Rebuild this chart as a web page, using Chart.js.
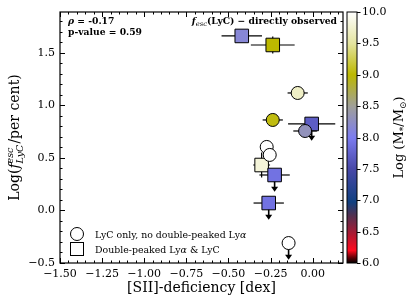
<!DOCTYPE html>
<html>
<head>
<script src="https://cdn.jsdelivr.net/npm/chart.js@4.4.0/dist/chart.umd.min.js"></script>
<style>body{margin:0;background:#fff}</style>
</head>
<body>
<canvas id="c" width="415" height="303"></canvas>
<script>
// circles: LyC only, no double-peaked Lya
const circleX = [-0.089, -0.237, -0.045, -0.273, -0.255, -0.143];
const circleY = [1.119, 0.862, 0.757, 0.605, 0.529, -0.31];
const circleXerr = [0.06, 0.06, 0.07, 0, 0, 0];
const circleMass = [9.7, 9.05, 8.3, 10, 10, 10];
const circleUplim = [false, false, false, false, false, true];

// squares: double-peaked Lya & LyC
const squareX = [-0.421, -0.237, -0.006, -0.303, -0.226, -0.261];
const squareY = [1.662, 1.576, 0.824, 0.433, 0.338, 0.071];
const squareXerr = [0.12, 0.13, 0.14, 0.05, 0.09, 0.09];
const squareYerr = [0, 0.08, 0, 0.12, 0, 0];
const squareMass = [8.15, 9.0, 7.7, 9.8, 7.9, 7.9];
const squareUplim = [false, false, true, false, true, true];

const xTicks = [-1.5, -1.25, -1.0, -0.75, -0.5, -0.25, 0.0];
const yTicks = [-0.5, 0.0, 0.5, 1.0, 1.5];
const cbTicks = [6.0, 6.5, 7.0, 7.5, 8.0, 8.5, 9.0, 9.5, 10.0];

// colormap stops (mass -> rgb)
const cmapStops = [
  [6.0, [0, 0, 0]], [6.08, [90, 0, 5]], [6.2, [255, 10, 30]], [6.45, [176, 24, 48]],
  [6.76, [80, 48, 80]], [6.97, [16, 64, 128]], [7.5, [72, 72, 168]], [8.0, [124, 124, 240]],
  [8.5, [160, 160, 152]], [9.0, [188, 184, 0]], [9.5, [228, 228, 160]], [10.0, [255, 255, 255]]
];
function cmap(v) {
  if (v <= cmapStops[0][0]) return 'rgb(' + cmapStops[0][1].join(',') + ')';
  for (let i = 1; i < cmapStops.length; i++) {
    const [v1, c1] = cmapStops[i], [v0, c0] = cmapStops[i - 1];
    if (v <= v1) {
      const t = (v - v0) / (v1 - v0);
      return 'rgb(' + c0.map((c, k) => Math.round(c + t * (c1[k] - c))).join(',') + ')';
    }
  }
  return 'rgb(255,255,255)';
}

const SERIF = "'DejaVu Serif', serif";
const fmtMinus = s => s.replace('-', '\u2212');

function runs(ctx, x, y, parts, align) {
  let w = 0;
  parts.forEach(p => { ctx.font = p.font; w += p.w !== undefined ? p.w : ctx.measureText(p.t).width; });
  let cx = align === 'right' ? x - w : align === 'center' ? x - w / 2 : x;
  parts.forEach(p => {
    ctx.font = p.font;
    if (p.stack) {
      p.stack.forEach(s => { ctx.font = s.font; ctx.fillText(s.t, cx, y + s.dy); });
      cx += p.w;
    } else {
      ctx.fillText(p.t, cx, y + (p.dy || 0));
      cx += ctx.measureText(p.t).width;
    }
  });
}

function measureStack(ctx, stack) {
  let m = 0;
  stack.forEach(s => { ctx.font = s.font; m = Math.max(m, ctx.measureText(s.t).width); });
  return m;
}

const decor = {
  id: 'decor',
  beforeDatasetsDraw(chart) {
    const { ctx, scales: { x, y } } = chart;
    ctx.save();
    ctx.strokeStyle = '#000';
    ctx.fillStyle = '#000';
    ctx.lineWidth = 1.2;
    const bars = (xs, ys, xe, ye, up) => {
      xs.forEach((xv, i) => {
        const px = x.getPixelForValue(xv), py = y.getPixelForValue(ys[i]);
        ctx.beginPath();
        if (xe[i]) { ctx.moveTo(x.getPixelForValue(xv - xe[i]), py); ctx.lineTo(x.getPixelForValue(xv + xe[i]), py); }
        if (ye && ye[i]) { ctx.moveTo(px, y.getPixelForValue(ys[i] - ye[i])); ctx.lineTo(px, y.getPixelForValue(ys[i] + ye[i])); }
        ctx.stroke();
        if (up[i]) {
          const tip = y.getPixelForValue(ys[i] - 0.16);
          ctx.lineWidth = 1.6;
          ctx.beginPath(); ctx.moveTo(px, py); ctx.lineTo(px, tip - 3); ctx.stroke();
          ctx.beginPath(); ctx.moveTo(px - 3.5, tip - 5); ctx.lineTo(px + 3.5, tip - 5); ctx.lineTo(px, tip); ctx.closePath(); ctx.fill();
          ctx.lineWidth = 1.2;
        }
      });
    };
    bars(squareX, squareY, squareXerr, squareYerr, squareUplim);
    bars(circleX, circleY, circleXerr, null, circleUplim);
    ctx.restore();
  },
  afterDraw(chart) {
    const { ctx, chartArea: a, scales: { x, y } } = chart;
    ctx.save();
    ctx.strokeStyle = '#000';
    ctx.fillStyle = '#000';
    // frame
    ctx.lineWidth = 1.2;
    ctx.strokeRect(a.left, a.top, a.right - a.left, a.bottom - a.top);
    // inward ticks
    ctx.lineWidth = 1;
    ctx.beginPath();
    for (let v = -1.5; v <= 0.2; v += 0.05) {
      const px = Math.round(x.getPixelForValue(v)) + 0.5;
      const major = xTicks.some(t => Math.abs(t - v) < 1e-6);
      const len = major ? 5 : 2.5;
      ctx.moveTo(px, a.bottom); ctx.lineTo(px, a.bottom - len);
      ctx.moveTo(px, a.top); ctx.lineTo(px, a.top + len);
    }
    for (let v = -0.5; v <= 1.9; v += 0.1) {
      const py = Math.round(y.getPixelForValue(v)) + 0.5;
      const major = yTicks.some(t => Math.abs(t - v) < 1e-6);
      const len = major ? 5 : 2.5;
      ctx.moveTo(a.left, py); ctx.lineTo(a.left + len, py);
      ctx.moveTo(a.right, py); ctx.lineTo(a.right - len, py);
    }
    ctx.stroke();

    // colorbar
    const cbL = a.right + 4, cbR = a.right + 14, cbT = a.top, cbB = a.bottom;
    const cbPix = v => cbB - (v - 6) / 4 * (cbB - cbT);
    const g = ctx.createLinearGradient(0, cbB, 0, cbT);
    cmapStops.forEach(s => g.addColorStop((s[0] - 6) / 4, 'rgb(' + s[1].join(',') + ')'));
    ctx.fillStyle = g;
    ctx.fillRect(cbL, cbT, cbR - cbL, cbB - cbT);
    ctx.strokeRect(cbL, cbT, cbR - cbL, cbB - cbT);
    ctx.fillStyle = '#000';
    ctx.font = '11px ' + SERIF;
    ctx.textBaseline = 'middle';
    ctx.beginPath();
    cbTicks.forEach(v => {
      const py = Math.round(cbPix(v)) + 0.5;
      ctx.moveTo(cbR, py); ctx.lineTo(cbR + 3.5, py);
      ctx.fillText(v.toFixed(1), cbR + 5, py);
    });
    ctx.stroke();
    ctx.textBaseline = 'alphabetic';

    // colorbar label
    ctx.save();
    ctx.translate(403, (cbT + cbB) / 2);
    ctx.rotate(-Math.PI / 2);
    const f13 = '13px ' + SERIF, f9 = '9px ' + SERIF;
    runs(ctx, 0, 0, [
      { t: 'Log (M', font: f13 }, { t: '*', font: f9, dy: 3 },
      { t: '/M', font: f13 }, { t: '\u2299', font: f9, dy: 3 }, { t: ')', font: f13 }
    ], 'center');
    ctx.restore();

    // y label
    ctx.save();
    ctx.translate(19, (a.top + a.bottom) / 2);
    ctx.rotate(-Math.PI / 2);
    const f14 = '14px ' + SERIF, fi14 = 'italic 14px ' + SERIF, fs = 'italic 9.5px ' + SERIF;
    const stack = [{ t: 'esc', font: fs, dy: -6 }, { t: 'LyC', font: fs, dy: 4 }];
    runs(ctx, 0, 0, [
      { t: 'Log(', font: f14 }, { t: 'f', font: fi14 },
      { stack, font: fs, w: measureStack(ctx, stack) + 1 },
      { t: '/per cent)', font: f14 }
    ], 'center');
    ctx.restore();

    // x label
    ctx.font = '14px ' + SERIF;
    ctx.textAlign = 'center';
    ctx.fillText('[SII]-deficiency [dex]', (a.left + a.right) / 2, 292);
    ctx.textAlign = 'left';

    // annotations
    const b10 = 'bold 9.2px ' + SERIF;
    runs(ctx, a.left + 8, a.top + 12, [
      { t: '\u03c1', font: 'italic bold 9.2px ' + SERIF }, { t: ' = -0.17', font: b10 }
    ], 'left');
    ctx.font = b10;
    ctx.fillText('p-value = 0.59', a.left + 8, a.top + 23);
    runs(ctx, a.right - 6, a.top + 12, [
      { t: 'f', font: 'italic bold 9.2px ' + SERIF }, { t: 'esc', font: 'italic 6.8px ' + SERIF, dy: 2 },
      { t: '(LyC) \u2212 directly observed', font: b10 }
    ], 'right');

    // legend
    const lx = 77, ly1 = 234, ly2 = 249;
    ctx.lineWidth = 1;
    ctx.fillStyle = '#fff';
    ctx.beginPath(); ctx.arc(lx, ly1, 6.5, 0, Math.PI * 2); ctx.fill(); ctx.stroke();
    ctx.fillRect(lx - 6.5, ly2 - 6.5, 13, 13); ctx.strokeRect(lx - 6.5, ly2 - 6.5, 13, 13);
    ctx.fillStyle = '#000';
    const f10 = '9.4px ' + SERIF, fi10 = 'italic 9.4px ' + SERIF;
    runs(ctx, 95, ly1 + 4, [{ t: 'LyC only, no double-peaked Ly', font: f10 }, { t: '\u03b1', font: fi10 }], 'left');
    runs(ctx, 95, ly2 + 4, [{ t: 'Double-peaked Ly', font: f10 }, { t: '\u03b1', font: fi10 }, { t: ' & LyC', font: f10 }], 'left');
    ctx.restore();
  }
};

new Chart(document.getElementById('c'), {
  type: 'scatter',
  data: {
    datasets: [
      {
        label: 'LyC only, no double-peaked Ly\u03b1',
        data: circleX.map((v, i) => ({ x: v, y: circleY[i] })),
        pointStyle: 'circle',
        pointRadius: 6.5,
        pointHoverRadius: 6.5,
        backgroundColor: circleMass.map(cmap),
        borderColor: '#000',
        borderWidth: 1
      },
      {
        label: 'Double-peaked Ly\u03b1 & LyC',
        data: squareX.map((v, i) => ({ x: v, y: squareY[i] })),
        pointStyle: 'rect',
        pointRadius: 9.6,
        pointHoverRadius: 9.6,
        backgroundColor: squareMass.map(cmap),
        borderColor: '#000',
        borderWidth: 1
      }
    ]
  },
  options: {
    responsive: false,
    animation: false,
    events: [],
    layout: { padding: { top: 12, right: 72, left: 0, bottom: 0 } },
    plugins: { legend: { display: false }, tooltip: { enabled: false } },
    scales: {
      x: {
        type: 'linear', min: -1.5, max: 0.18,
        grid: { display: false, drawTicks: false },
        border: { display: false },
        afterBuildTicks: s => { s.ticks = xTicks.map(v => ({ value: v })); },
        afterFit: s => { s.height = 40; },
        ticks: {
          padding: 5, color: '#000', maxRotation: 0, autoSkip: false,
          font: { family: SERIF, size: 11 },
          callback: v => fmtMinus(v.toFixed(2))
        }
      },
      y: {
        type: 'linear', min: -0.5, max: 1.89,
        grid: { display: false, drawTicks: false },
        border: { display: false },
        afterBuildTicks: s => { s.ticks = yTicks.map(v => ({ value: v })); },
        afterFit: s => { s.width = 60; },
        ticks: {
          padding: 5, color: '#000', autoSkip: false,
          font: { family: SERIF, size: 11 },
          callback: v => fmtMinus(v.toFixed(1))
        }
      }
    }
  },
  plugins: [decor]
});
</script>
</body>
</html>
